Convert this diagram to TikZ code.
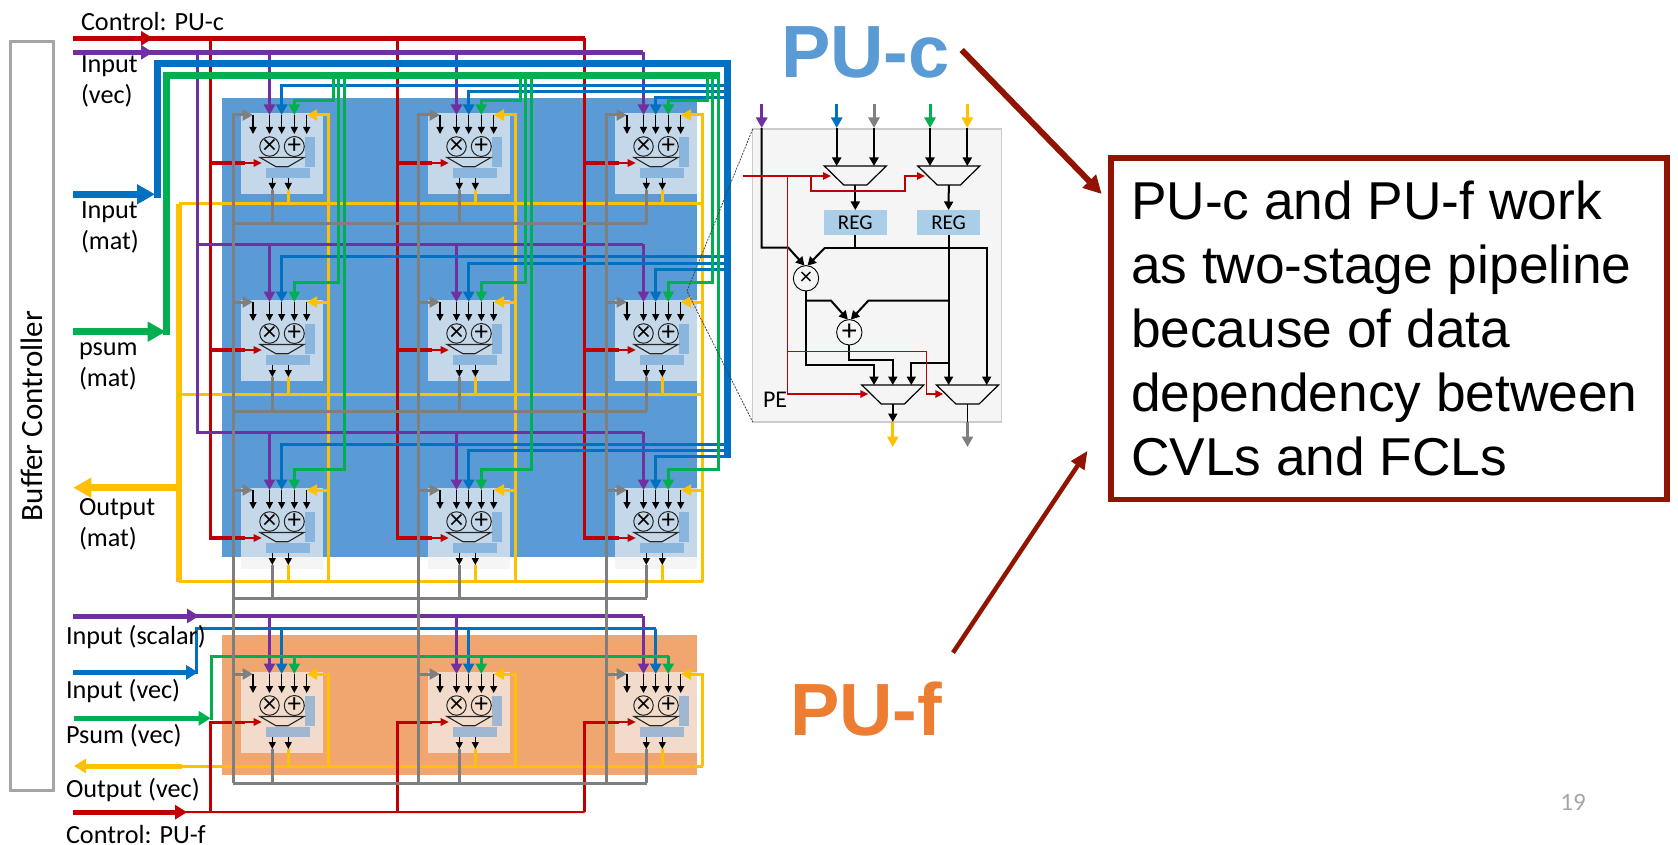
\documentclass[tikz,border=0pt]{standalone}
\usepackage{fontspec}
\setmainfont{Carlito}
\newfontfamily\arialfont{Liberation Sans}
\usetikzlibrary{arrows.meta, shapes.geometric}
\definecolor{wred}{HTML}{C00000}
\definecolor{wpurple}{HTML}{7030A0}
\definecolor{wblue}{HTML}{0070C0}
\definecolor{wgreen}{HTML}{00B050}
\definecolor{wyellow}{HTML}{FFC000}
\definecolor{wgray}{HTML}{7F7F7F}
\definecolor{pucblue}{HTML}{5B9BD5}
\definecolor{pufbg}{HTML}{F2A66F}
\definecolor{pufor}{HTML}{ED7D31}
\definecolor{darkred}{HTML}{901400}
\definecolor{regblue}{HTML}{ABCEE8}

\begin{document}
\begin{tikzpicture}[x=1pt, y=-1pt, every node/.style={inner sep=0, outer sep=0},
    lbl/.style={anchor=base west, align=left, font=\fontsize{26.2}{31}\selectfont},
    bigtxt/.style={anchor=base west, font=\arialfont\bfseries\fontsize{74}{74}\selectfont},
    calltext/.style={anchor=base west, align=left, font=\arialfont\fontsize{53.3}{64}\selectfont},
    callbox/.style={draw=darkred, line width=5.5pt, minimum width=556pt, minimum height=341.5pt},
    bufbox/.style={draw=black!35, line width=3pt, minimum width=748.5pt, minimum height=43pt, rotate=90, font=\fontsize{31}{31}\selectfont},
    pebox/.style={anchor=north west, fill=black!5, fill opacity=.7, minimum width=82pt, minimum height=81pt},
    peside/.style={fill=pucblue, fill opacity=.55, minimum width=10pt, minimum height=30pt},
    pelow/.style={fill=pucblue, fill opacity=.55, minimum width=44pt, minimum height=10pt},
    pecirc/.style={draw=black!85, circle, line width=1pt, minimum size=19.2pt},
    muxs/.style={draw=black!85, line width=1.1pt, inner sep=.5pt, trapezium, shape border rotate=180, trapezium stretches=true, trapezium left angle=37, trapezium right angle=37, minimum width=44pt, minimum height=9.3pt},
    muxl/.style={draw=black, line width=1.2pt, inner sep=.5pt, trapezium, shape border rotate=180, trapezium stretches=true, trapezium left angle=50, trapezium right angle=50, minimum width=62pt, minimum height=19pt},
    regbox/.style={fill=regblue, minimum width=63pt, minimum height=25pt, font=\fontsize{21}{21}\selectfont},
    inscirc/.style={draw=black, circle, line width=.9pt, minimum size=25.4pt},
    panel/.style={draw=black!20, fill=black!4, line width=1.5pt, minimum width=249pt, minimum height=293pt},
    pintip/.style={-{Triangle[length=7pt,width=7pt]}},
    wiretip/.style={-{Triangle[length=10.5pt,width=11pt]}},
    bustip/.style={-{Triangle[length=18pt,width=19pt]}},
    midtip/.style={-{Triangle[length=12pt,width=14pt]}},
    blktip/.style={-{Triangle[length=8.5pt,width=9pt]}},
    redtip/.style={-{Triangle[length=8pt,width=7.5pt]}},
    callA/.style={draw=darkred, line width=6pt, -{Triangle[length=18pt,width=18pt]}},
    callB/.style={draw=darkred, line width=4.5pt, -{Triangle[length=18pt,width=15pt]}},
    pinwire/.style={draw=black, line width=1.3pt},
    blkwire/.style={draw=black, line width=2pt},
    redthin/.style={draw=wred, line width=1.5pt},
    rwire/.style={draw=wred, line width=3pt},
    pwire/.style={draw=wpurple, line width=3pt},
    bwire/.style={draw=wblue, line width=3pt},
    gwire/.style={draw=wgreen, line width=3pt},
    ywire/.style={draw=wyellow, line width=3pt},
    kwire/.style={draw=wgray, line width=3pt}]
    \useasboundingbox (0,0) rectangle (1678,845);
    \fill[white] (0,0) rectangle (1678,845);

    \node[fill=pucblue, anchor=north west, minimum width=475pt, minimum height=458.5pt] (pucbg) at (222,98) {};
    \node[fill=pufbg, anchor=north west, minimum width=475pt, minimum height=139.5pt] (pufbg) at (222,635) {};

    \node[bufbox] (bufctl) at (32,416) {Buffer Controller};

    \foreach \rw/\cy in {1/113,2/300,3/488,4/672}{
        \foreach \cl/\cx in {1/241,2/428,3/615}{
            \node[pebox] (c\rw\cl) at (\cx,\cy) {};
            \node[peside] (c\rw\cl-sr) at ([shift={(69,38.7)}]c\rw\cl.north west) {};
            \node[pelow] (c\rw\cl-br) at ([shift={(47,60)}]c\rw\cl.north west) {};
            \node[pecirc, font=\fontsize{27}{27}\selectfont] (c\rw\cl-mul) at ([shift={(28.5,33.5)}]c\rw\cl.north west) {×};
            \node[pecirc, font=\fontsize{27}{27}\selectfont] (c\rw\cl-add) at ([shift={(53.3,33.5)}]c\rw\cl.north west) {+};
            \node[muxs] (c\rw\cl-mux) at ([shift={(41,49.1)}]c\rw\cl.north west) {};
            \coordinate (c\rw\cl-gi) at ([shift={(12,2)}]c\rw\cl.north west);
            \coordinate (c\rw\cl-pu) at ([shift={(28.5,2)}]c\rw\cl.north west);
            \coordinate (c\rw\cl-bl) at ([shift={(40.7,2)}]c\rw\cl.north west);
            \coordinate (c\rw\cl-gn) at ([shift={(53.3,2)}]c\rw\cl.north west);
            \coordinate (c\rw\cl-yi) at ([shift={(65.7,2)}]c\rw\cl.north west);
            \coordinate (c\rw\cl-rs) at ([shift={(4,50)}]c\rw\cl.north west);
            \coordinate (c\rw\cl-rt) at ([shift={(20.7,50)}]c\rw\cl.north west);
            \coordinate (c\rw\cl-ok) at ([shift={(31.3,77)}]c\rw\cl.north west);
            \coordinate (c\rw\cl-oy) at ([shift={(47.3,77)}]c\rw\cl.north west);
            \foreach \pin in {gi,pu,bl,gn,yi}{
                \draw[pinwire, pintip] (c\rw\cl-\pin) -- ++(0,19);
            }
            \draw[pinwire, pintip] ([shift={(31.3,65)}]c\rw\cl.north west) -- (c\rw\cl-ok);
            \draw[pinwire, pintip] ([shift={(47.3,65)}]c\rw\cl.north west) -- (c\rw\cl-oy);
            \draw[redthin, redtip] (c\rw\cl-rs) -- (c\rw\cl-rt);
        }
    }

    \foreach \rw/\yb in {1/204,2/394.5,3/581.5,4/766}{
        \coordinate (ybus\rw) at (179,\yb);
        \coordinate (yend\rw) at (702.5,\yb);
        \draw[ywire] (ybus\rw) -- (yend\rw);
        \foreach \cl in {1,2,3}{
            \draw[ywire] (c\rw\cl-oy) -- (c\rw\cl-oy |- ybus\rw);
        }
    }
    \draw[ywire, line width=6pt] (ybus1) -- (ybus3);
    \coordinate (youtj) at (179,487.7);
    \coordinate (youte) at (73.3,487.7);
    \draw[ywire, line width=6.5pt, bustip] (youtj) -- (youte);
    \coordinate (yfj) at (182,766);
    \coordinate (yfe) at (74,766);
    \draw[ywire, line width=5pt, midtip] (yfj) -- (yfe);
    \foreach \cl/\xv in {1/328,2/515,3/702}{
        \coordinate (yvb\cl) at (\xv,581.5);
        \coordinate (yvf\cl) at (\xv,766);
        \draw[ywire, wiretip] (yvb\cl) |- (c1\cl-yi);
        \draw[ywire, wiretip] (c2\cl-yi -| yvb\cl) -- (c2\cl-yi);
        \draw[ywire, wiretip] (c3\cl-yi -| yvb\cl) -- (c3\cl-yi);
        \draw[ywire, wiretip] (yvf\cl) |- (c4\cl-yi);
    }

    \coordinate (ctlcs) at (73,38.3);
    \coordinate (ctlca) at (153,38.3);
    \coordinate (ctlce) at (584.5,38.3);
    \draw[rwire, line width=5pt] (ctlcs) -- (ctlce);
    \draw[rwire, line width=5pt, midtip] (ctlcs) -- (ctlca);
    \coordinate (ctlfs) at (73,812.2);
    \coordinate (ctlfa) at (187,812.2);
    \coordinate (ctlfe) at (584.5,812);
    \draw[rwire, line width=2pt] (ctlfs) -- (ctlfe);
    \draw[rwire, line width=5pt, midtip] (ctlfs) -- (ctlfa);
    \foreach \cl/\xv in {1/210,2/397.5,3/584.5}{
        \coordinate (rvt\cl) at (\xv,38.3);
        \coordinate (rvb\cl) at (\xv,812);
        \draw[rwire] (rvt\cl) |- (c3\cl-rs);
        \draw[rwire, line width=3.5pt] (c1\cl-rs -| rvt\cl) -- (c1\cl-rs);
        \draw[rwire, line width=3.5pt] (c2\cl-rs -| rvt\cl) -- (c2\cl-rs);
        \draw[rwire, line width=3.5pt] (c3\cl-rs -| rvt\cl) -- (c3\cl-rs);
        \draw[rwire] (rvb\cl) |- (c4\cl-rs);
    }

    \coordinate (pubs) at (73,52.3);
    \coordinate (puba) at (153,52.3);
    \coordinate (pub1) at (197.3,52.3);
    \coordinate (pue1) at (643.3,52.3);
    \coordinate (pub2) at (197.3,244.3);
    \coordinate (pue2) at (643.3,244.3);
    \coordinate (pub3) at (197.3,432);
    \coordinate (pue3) at (643.3,432);
    \coordinate (pub4) at (73,616);
    \coordinate (pufa) at (199,616);
    \coordinate (pue4) at (643.3,616);
    \draw[pwire, line width=5pt] (pubs) -- (pue1);
    \draw[pwire, line width=5pt, midtip] (pubs) -- (puba);
    \draw[pwire] (pub1) -- (pub3) -- (pue3);
    \draw[pwire] (pub2) -- (pue2);
    \draw[pwire, line width=4pt] (pub4) -- (pue4);
    \draw[pwire, line width=5pt, midtip] (pub4) -- (pufa);
    \foreach \rw in {1,2,3,4}{
        \foreach \cl in {1,2,3}{
            \draw[pwire, wiretip] (c\rw\cl-pu |- pub\rw) -- (c\rw\cl-pu);
        }
    }

    \coordinate (blus) at (73,194.3);
    \coordinate (blua) at (155,194.3);
    \coordinate (bluv) at (157.5,197.8);
    \coordinate (blut) at (727.5,63.5);
    \coordinate (blub) at (727.5,458);
    \draw[bwire, line width=7pt, bustip] (blus) -- (blua);
    \draw[bwire, line width=7pt] (bluv) |- (blut) -- (blub);
    \foreach \rw/\ya/\yb/\yc in {1/85.7/91.7/97.7,2/256/263.3/269.3,3/444/450/456.7}{
        \coordinate (blr\rw1) at (727.5,\ya);
        \coordinate (blr\rw2) at (727.5,\yb);
        \coordinate (blr\rw3) at (727.5,\yc);
        \foreach \cl in {1,2,3}{
            \draw[bwire, wiretip] (blr\rw\cl) -| (c\rw\cl-bl);
        }
    }
    \coordinate (bfs) at (73,672.3);
    \coordinate (bfa) at (198,672.3);
    \coordinate (bfv) at (196,673.5);
    \coordinate (bfb) at (196,628.5);
    \coordinate (bfe) at (655.7,628.5);
    \draw[bwire, line width=5pt, midtip] (bfs) -- (bfa);
    \draw[bwire] (bfv) -- (bfb) -- (bfe);
    \foreach \cl in {1,2,3}{
        \draw[bwire, wiretip] (c4\cl-bl |- bfb) -- (c4\cl-bl);
    }

    \coordinate (grns) at (73,331.7);
    \coordinate (grna) at (165.7,331.7);
    \coordinate (grnv) at (166.7,335);
    \coordinate (grnt) at (720,75.5);
    \draw[gwire, line width=7pt, bustip] (grns) -- (grna);
    \draw[gwire, line width=7pt] (grnv) |- (grnt);
    \foreach \rw/\dx/\gy in {1/0/101,2/5/282,3/11/469}{
        \coordinate (gry\rw) at (0,\gy);
        \foreach \cl/\xv in {1/333,2/520,3/707}{
            \coordinate (grt\rw\cl) at ({\xv+\dx},75.5);
            \draw[gwire, wiretip] (grt\rw\cl) |- (c\rw\cl-gn |- gry\rw) -- (c\rw\cl-gn);
        }
    }
    \coordinate (gfs) at (74,718.3);
    \coordinate (gfa) at (210.7,718.3);
    \coordinate (gfv) at (211,719.5);
    \coordinate (gfb) at (211,656);
    \coordinate (gfe) at (668.5,656);
    \draw[gwire, line width=5pt, midtip] (gfs) -- (gfa);
    \draw[gwire] (gfv) -- (gfb) -- (gfe);
    \foreach \cl in {1,2,3}{
        \draw[gwire, wiretip] (c4\cl-gn |- gfb) -- (c4\cl-gn);
    }

    \foreach \rw/\yb in {1/223.3,2/411.3,3/598.3,4/783.3}{
        \coordinate (kbus\rw) at (233.3,\yb);
        \coordinate (kend\rw) at (646.7,\yb);
        \draw[kwire] (kbus\rw) -- (kend\rw);
        \foreach \cl in {1,2,3}{
            \draw[kwire] (c\rw\cl-ok) -- (c\rw\cl-ok |- kbus\rw);
        }
    }
    \foreach \cl/\xv in {1/233.3,2/418,3/606}{
        \coordinate (kvb\cl) at (\xv,783.3);
        \draw[kwire, wiretip] (kvb\cl) |- (c1\cl-gi);
        \draw[kwire, wiretip] (c2\cl-gi -| kvb\cl) -- (c2\cl-gi);
        \draw[kwire, wiretip] (c3\cl-gi -| kvb\cl) -- (c3\cl-gi);
        \draw[kwire, wiretip] (c4\cl-gi -| kvb\cl) -- (c4\cl-gi);
    }

    \node[lbl] (lctlc) at (81,30.3) {Control: PU-c};
    \node[lbl] (linvec) at (81,103.5) {Input\\(vec)};
    \node[lbl] (linmat) at (81,249) {Input\\(mat)};
    \node[lbl] (lpsum) at (79,386) {psum\\(mat)};
    \node[lbl] (loutm) at (79,546) {Output\\(mat)};
    \node[lbl] (linsc) at (66,644.5) {Input (scalar)};
    \node[lbl] (linv) at (66,698.5) {Input (vec)};
    \node[lbl] (lpsv) at (66,743.2) {Psum (vec)};
    \node[lbl] (loutv) at (66,797.2) {Output (vec)};
    \node[lbl] (lctlf) at (66,843) {Control: PU-f};

    \node[panel] (pepanel) at (877.2,275.5) {};
    \coordinate (zoompt) at (687,291);
    \draw[black!75, line width=.8pt, dash pattern=on 2pt off 1.2pt] (pepanel.north west) -- (zoompt) -- (pepanel.south west);

    \node[muxl] (mux1) at (855.3,175.5) {};
    \node[muxl] (mux2) at (948.8,175.5) {};
    \node[muxl] (mux3) at (892.8,394.5) {};
    \node[muxl] (mux4) at (967.5,394.5) {};
    \node[regbox] (reg1) at (855.3,222.5) {REG};
    \node[regbox] (reg2) at (948.6,222.5) {REG};
    \node[inscirc, font=\fontsize{24}{24}\selectfont] (mulc) at (806,278.3) {×};
    \node[inscirc, font=\fontsize{30}{30}\selectfont] (addc) at (849.3,332.3) {+};
    \node[anchor=base west, font=\fontsize{24}{24}\selectfont] (pelbl) at (763,407) {PE};

    \foreach \pn/\xp/\cc in {pu/761.7/wpurple, bl/836.7/wblue, ky/874/wgray, gn/930/wgreen, yl/967.3/wyellow}{
        \coordinate (pin-\pn-s) at (\xp,104);
        \coordinate (pin-\pn-t) at (\xp,128);
        \draw[draw=\cc, line width=3pt, wiretip] (pin-\pn-s) -- (pin-\pn-t);
    }
    \draw[blkwire, blktip] (pin-bl-t) -- (pin-bl-t |- mux1.north);
    \draw[blkwire, blktip] (pin-ky-t) -- (pin-ky-t |- mux1.north);
    \draw[blkwire, blktip] (pin-gn-t) -- (pin-gn-t |- mux2.north);
    \draw[blkwire, blktip] (pin-yl-t) -- (pin-yl-t |- mux2.north);
    \draw[blkwire, blktip] (mux1.south) -- (reg1.north);
    \draw[blkwire, blktip] (mux2.south) -- (reg2.north);

    \coordinate (j1) at (855.3,247.7);
    \coordinate (j1l) at (825,247.7);
    \coordinate (j1r) at (986.7,247.7);
    \coordinate (j2) at (788.3,247.7);
    \coordinate (j4) at (868.3,300.7);
    \coordinate (j3) at (948.6,300.7);
    \coordinate (j5) at (806,300.7);
    \coordinate (j6) at (831,300.7);
    \coordinate (j7) at (948.6,363.3);
    \coordinate (m3a) at (874,365);
    \coordinate (m3b) at (892.8,360);
    \coordinate (m3c) at (911.3,363.3);
    \draw[blkwire] (reg1.south) -- (j1);
    \draw[blkwire, blktip] (j1l) -- (j1r) -- (j1r |- mux4.north);
    \draw[blkwire, blktip] (j1l) -- ([xshift=1.5pt]mulc.north);
    \draw[blkwire, blktip] (pin-pu-t) |- (j2) -- ([xshift=-1.5pt]mulc.north);
    \draw[blkwire, blktip] (reg2.south) -- (reg2.south |- mux4.north);
    \draw[blkwire, blktip] (j3) -- (j4) -- ([xshift=1.5pt]addc.north);
    \draw[blkwire, blktip] (j5) -- (j6) -- ([xshift=-1.5pt]addc.north);
    \draw[blkwire] (mulc.south) -- (j5);
    \draw[blkwire, blktip] (j5) |- (m3a) -- (m3a |- mux3.north);
    \draw[blkwire, blktip] (addc.south) |- (m3b) -- (m3b |- mux3.north);
    \draw[blkwire, blktip] (j7) -- (m3c) -- (m3c |- mux3.north);

    \coordinate (o3) at (892.8,422);
    \coordinate (o3e) at (892.8,447);
    \coordinate (o4) at (967.5,422);
    \coordinate (o4e) at (967.5,447);
    \draw[blkwire, blktip] (mux3.south) -- (o3);
    \draw[draw=black, line width=1pt] (mux4.south) -- (o4);
    \draw[ywire, wiretip] (o3) -- (o3e);
    \draw[kwire, wiretip] (o4) -- (o4e);

    \coordinate (r0) at (742.7,176);
    \coordinate (rt1) at (831,176);
    \coordinate (r1) at (811,176);
    \coordinate (r2) at (811,191);
    \coordinate (r3) at (905,191);
    \coordinate (r4) at (905,176);
    \coordinate (rt2) at (925,176);
    \coordinate (rv) at (787.3,176);
    \coordinate (rb) at (787.3,394);
    \coordinate (rt3) at (868.3,394);
    \coordinate (r5) at (787.3,351.7);
    \coordinate (r6) at (926.7,351.7);
    \coordinate (r7) at (926.7,394);
    \coordinate (rt4) at (943.3,394);
    \draw[redthin, redtip] (r0) -- (rt1);
    \draw[redthin, redtip] (r1) -- (r2) -- (r3) -- (r4) -- (rt2);
    \draw[redthin, redtip] (rv) -- (rb) -- (rt3);
    \draw[redthin, redtip] (r5) -- (r6) -- (r7) -- (rt4);

    \node[bigtxt, text=pucblue] (pulc) at (781,77.3) {PU-c};
    \node[bigtxt, text=pufor] (pulf) at (790,735) {PU-f};
    \node[callbox] (callout) at (1389,328.8) {};
    \node[calltext] (calltxt) at (1131,475) {PU-c and PU-f work\\as two-stage pipeline\\because of data\\dependency between\\CVLs and FCLs};
    \coordinate (arca) at (961.7,50);
    \coordinate (arcb) at (1101.7,194);
    \coordinate (arfa) at (953,652.7);
    \coordinate (arfb) at (1087.6,450.7);
    \draw[callA] (arca) -- (arcb);
    \draw[callB] (arfa) -- (arfb);
    \node[font=\fontsize{25}{25}\selectfont, text=black!35] (pgnum) at (1573,802) {19};
\end{tikzpicture}
\end{document}
